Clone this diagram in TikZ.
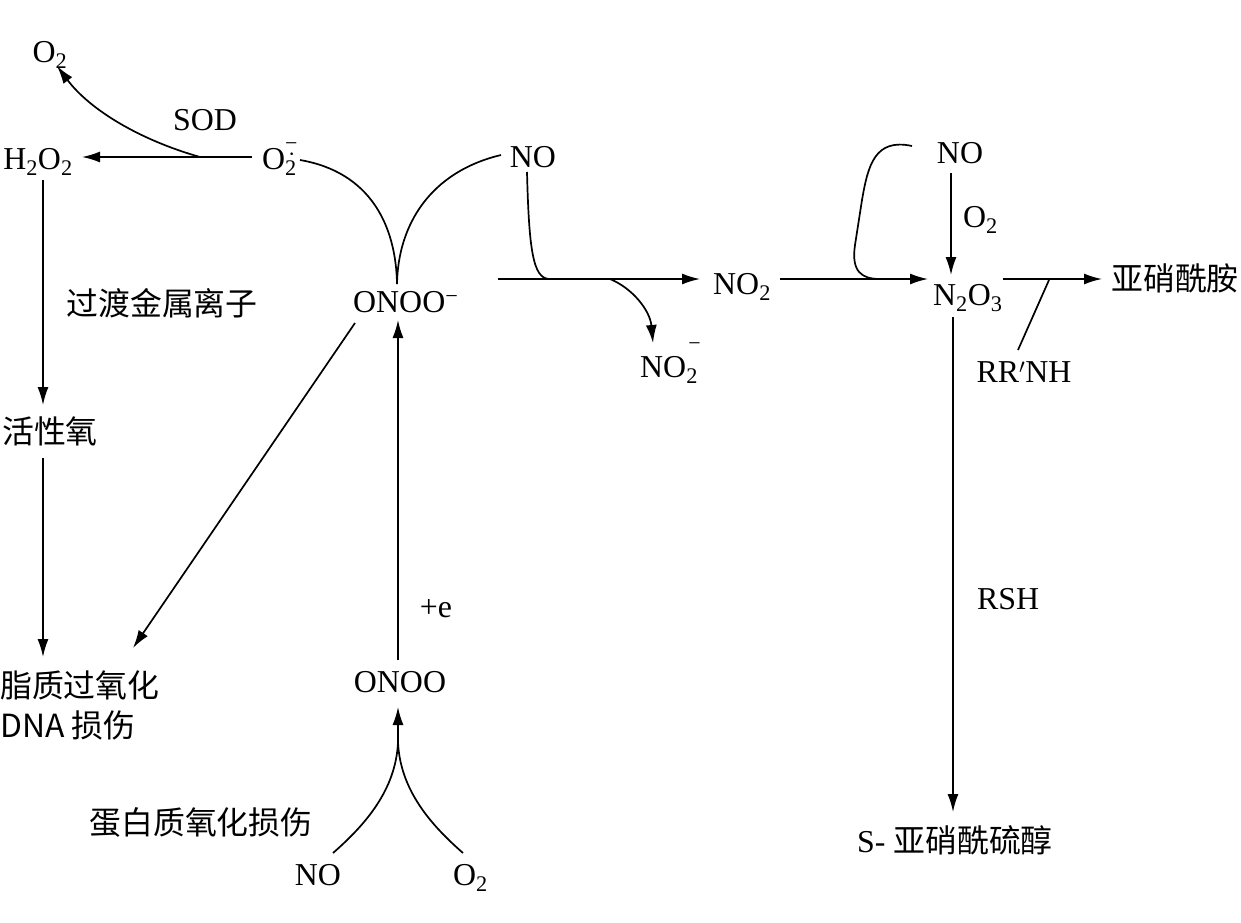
\documentclass[tikz,border=0pt]{standalone}
\usepackage{fontspec}
\setmainfont{Liberation Serif}
\newfontfamily\cjk{Noto Sans CJK SC}
\usetikzlibrary{arrows.meta}
\newcommand{\bigminus}{{\fontsize{22}{22}\selectfont −}}
\begin{document}
\begin{tikzpicture}[x=1bp,y=-1bp,
  every node/.style={font=\fontsize{32}{38}\selectfont, inner sep=0pt},
  lbl/.style={anchor=base},
  zh/.style={font=\fontsize{32}{38}\selectfont\cjk},
  ln/.style={line width=1.7bp},
  arr/.style={line width=1.7bp, -{Latex[length=18bp,width=11bp]}}]
\useasboundingbox (0,0) rectangle (1241,923);
% ---- nodes
\node[lbl] (o2top) at (50,62) {O\textsubscript{2}};
\node[lbl] (sod) at (205,130) {SOD};
\node[lbl] (h2o2) at (38,169) {H\textsubscript{2}O\textsubscript{2}};
\node[lbl, anchor=base west] (sup) at (262,169) {O\rlap{\textsubscript{2}}\rlap{\raisebox{19bp}{\bigminus}}\raisebox{8bp}{\fontsize{22}{22}\selectfont\kern3bp·}\kern4bp};
\node[lbl] (notop) at (533,167) {NO};
\node[lbl, anchor=base west] (onoom) at (353,312) {ONOO\textsuperscript{−}};
\node[zh] (tm) at (162,303) {过渡金属离子};
\node[zh] (ros) at (50,431) {活性氧};
\node[zh, anchor=west] (lip) at (0,685) {脂质过氧化};
\node[zh, anchor=west] (dna) at (0,725) {DNA 损伤};
\node[lbl] (onoo) at (400,692) {ONOO};
\node[lbl] (pe) at (436,617) {+e};
\node[zh] (prot) at (201,823) {蛋白质氧化损伤};
\node[lbl] (nobot) at (318,885) {NO};
\node[lbl, anchor=base west] (o2bot) at (453,885) {O\textsubscript{2}};
\node[lbl, anchor=base west] (no2) at (713,294) {NO\textsubscript{2}};
\node[lbl, anchor=base west] (no2m) at (640,377) {NO\rlap{\textsubscript{2}}\raisebox{27bp}{\kern2bp\bigminus}};
\node[lbl] (noR) at (960,163) {NO};
\node[lbl, anchor=base west] (o2lab) at (963,227) {O\textsubscript{2}};
\node[lbl, anchor=base west] (n2o3) at (933,305) {N\textsubscript{2}O\textsubscript{3}};
\node[zh] (amine) at (1175,278) {亚硝酰胺};
\node[lbl] (rrnh) at (1024,382) {RR$'$NH};
\node[lbl, anchor=base west] (rsh) at (977,609) {RSH};
\node[anchor=base] (snitro) at (955,852) {S- {\cjk 亚硝酰硫醇}};
% ---- connector end points
\coordinate (supL) at (252,157);
\coordinate (sodJ) at (200,157);
\coordinate (h2o2R) at (82,157);
\coordinate (o2topT) at (57,66);
\coordinate (h2o2B) at (43,180);
\coordinate (rosT) at (43,405);
\coordinate (rosB) at (43,458);
\coordinate (lipT) at (43,657);
\coordinate (supR) at (300,160);
\coordinate (notopL) at (501,155);
\coordinate (cusp) at (397,284);
\coordinate (onoomB) at (355,323);
\coordinate (lipR) at (133,648);
\coordinate (onoomU) at (398,320);
\coordinate (onooT) at (398,660);
\coordinate (onooB) at (398,707);
\coordinate (join) at (398,742);
\coordinate (nobotT) at (333,853);
\coordinate (o2botT) at (463,853);
\coordinate (notopB) at (527,172);
\coordinate (hL) at (498,279);
\coordinate (hJ) at (549,279);
\coordinate (branch) at (610,279);
\coordinate (no2L) at (700,279);
\coordinate (no2mT) at (653,343);
\coordinate (no2R) at (780,279);
\coordinate (n2o3L) at (928,279);
\coordinate (noRL) at (912,146);
\coordinate (loopJ) at (880,279);
\coordinate (noRB) at (951,173);
\coordinate (n2o3T) at (951,275);
\coordinate (n2o3R) at (1003,279);
\coordinate (amineL) at (1102,279);
\coordinate (rrJ) at (1049,280);
\coordinate (rrnhT) at (1018,350);
\coordinate (n2o3B) at (953,317);
\coordinate (snT) at (953,812);
% ---- connectors
\draw[arr] (supL) -- (h2o2R);
\draw[arr] (sodJ) .. controls (140,140) and (90,110) .. (o2topT);
\draw[arr] (h2o2B) -- (rosT);
\draw[arr] (rosB) -- (lipT);
\draw[ln] (supR) .. controls (370,172) and (396,225) .. (cusp);
\draw[ln] (notopL) .. controls (430,172) and (398,225) .. (cusp);
\draw[arr] (onoomB) -- (lipR);
\draw[arr] (onooT) -- (onoomU);
\draw[ln] (nobotT) .. controls (365,825) and (396,790) .. (join);
\draw[ln] (o2botT) .. controls (431,825) and (400,790) .. (join);
\draw[arr] (join) -- (onooB);
\draw[ln] (notopB) .. controls (529,250) and (533,278) .. (hJ);
\draw[arr] (hL) -- (no2L);
\draw[arr] (branch) .. controls (632,288) and (650,310) .. (no2mT);
\draw[arr] (no2R) -- (n2o3L);
\draw[ln] (noRL) .. controls (875,138) and (868,165) .. (862,200) -- (855,245) .. controls (851,272) and (862,279) .. (loopJ);
\draw[arr] (noRB) -- (n2o3T);
\draw[arr] (n2o3R) -- (amineL);
\draw[ln] (rrJ) -- (rrnhT);
\draw[arr] (n2o3B) -- (snT);
\end{tikzpicture}
\end{document}
